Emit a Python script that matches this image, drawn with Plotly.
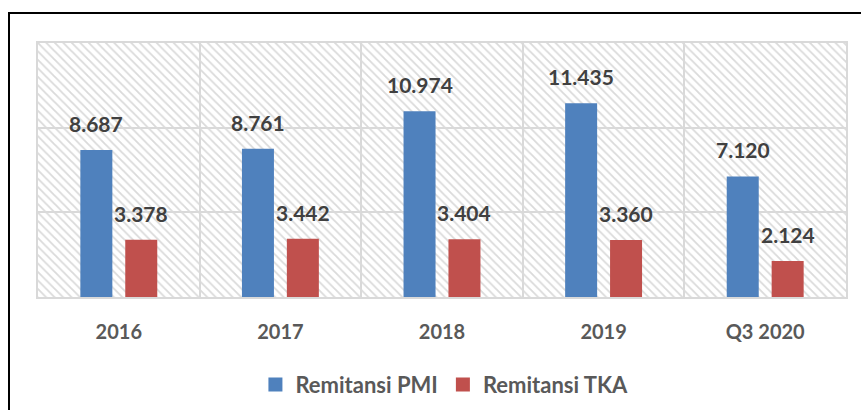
import plotly.graph_objects as go

categories = ["2016", "2017", "2018", "2019", "Q3 2020"]
pmi = [8.687, 8.761, 10.974, 11.435, 7.120]
tka = [3.378, 3.442, 3.404, 3.360, 2.124]
pmi_labels = ["8.687", "8.761", "10.974", "11.435", "7.120"]
tka_labels = ["3.378", "3.442", "3.404", "3.360", "2.124"]
series_names = ["Remitansi PMI", "Remitansi TKA"]
y_max = 15
y_tick_step = 5

BLUE = "#4f81bd"
RED = "#c0504d"
FONT = "Lato"

bar_w = 0.198
half_gap = 0.139

fig = go.Figure()

# hatched plot background
fig.add_trace(go.Bar(
    x=categories, y=[y_max] * len(categories), width=1, offset=-0.5,
    marker=dict(color="#dadada", line=dict(width=0),
                pattern=dict(shape="\\", fillmode="replace", size=6, solidity=0.3)),
    showlegend=False, hoverinfo="skip",
))

fig.add_trace(go.Bar(
    x=categories, y=pmi, name=series_names[0], width=bar_w, offset=-half_gap - bar_w / 2,
    marker=dict(color=BLUE, line=dict(width=0)), showlegend=False,
))
fig.add_trace(go.Bar(
    x=categories, y=tka, name=series_names[1], width=bar_w, offset=half_gap - bar_w / 2,
    marker=dict(color=RED, line=dict(width=0)), showlegend=False,
))

# legend entries with larger square swatches
for name, col in zip(series_names, [BLUE, RED]):
    fig.add_trace(go.Scatter(
        x=[None], y=[None], mode="markers", name=name,
        marker=dict(symbol="square", size=14, color=col), showlegend=True,
    ))

annotations = []
for i, (v, t) in enumerate(zip(pmi, pmi_labels)):
    annotations.append(dict(x=i - half_gap, y=v, text=t, showarrow=False, xanchor="center", yanchor="bottom",
                            yshift=12,
                            font=dict(family=FONT, size=21, color="#404040", weight="bold")))
for i, (v, t) in enumerate(zip(tka, tka_labels)):
    annotations.append(dict(x=i + half_gap, y=v, text=t, showarrow=False, xanchor="center", yanchor="bottom",
                            yshift=12,
                            font=dict(family=FONT, size=21, color="#404040", weight="bold")))

fig.update_layout(
    width=861, height=410,
    margin=dict(l=38, r=15, t=43, b=113, autoexpand=False),
    paper_bgcolor="white", plot_bgcolor="white",
    barmode="overlay",
    showlegend=True,
    legend=dict(orientation="h", x=0.503, xanchor="center", y=-0.345, yanchor="middle",
                font=dict(family=FONT, size=22, color="#595959", weight="bold"),
                itemwidth=30, traceorder="normal", tracegroupgap=0),
    annotations=annotations,
    xaxis=dict(type="category", categoryorder="array", categoryarray=categories,
               range=[-0.5, len(categories) - 0.5], autorange=False, automargin=False,
               tickson="boundaries", showgrid=True, gridcolor="#d9d9d9", gridwidth=1.5,
               showline=True, linecolor="#d9d9d9", linewidth=1.5, mirror=True,
               ticks="", ticklabelstandoff=16, tickangle=0,
               tickfont=dict(family=FONT, size=20, color="#595959", weight="bold")),
    yaxis=dict(range=[0, y_max], autorange=False, automargin=False, dtick=y_tick_step,
               showticklabels=False, showgrid=True,
               gridcolor="#d9d9d9", gridwidth=1.5, zeroline=False,
               showline=True, linecolor="#d9d9d9", linewidth=1.5, mirror=True),
    shapes=[dict(type="rect", xref="paper", yref="paper",
                 x0=(9 - 38) / 808, x1=1.2, y0=-1.0, y1=(297 - 13) / 254,
                 line=dict(color="black", width=2), fillcolor="rgba(0,0,0,0)", layer="above")],
)

fig.write_html("out.html", config={"displayModeBar": False},
               post_script="document.body.style.margin='0px';document.body.style.padding='0px';")
